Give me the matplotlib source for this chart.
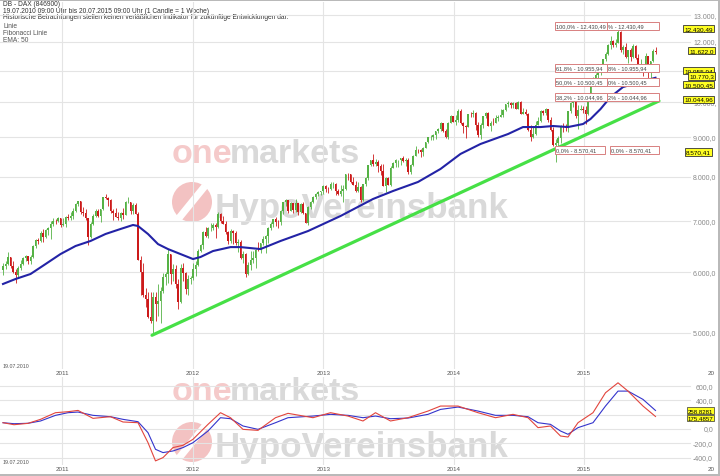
import numpy as np
import pandas as pd
import matplotlib
matplotlib.use("Agg")
import matplotlib.pyplot as plt
from matplotlib.patches import Rectangle, Circle, Polygon

plt.rcParams["font.family"] = ["Liberation Sans", "DejaVu Sans"]

W, H = 720, 477

# ---- weekly candles DB - DAX, 19.07.2010 .. 20.07.2015 ----
start = pd.Timestamp("2010-07-19")
first_open = 6050

close_2010 = [6117, 6148, 6281, 6110, 6005, 5951, 6080, 6160, 6257, 6299, 6211, 6291,
              6492, 6605, 6601, 6754, 6682, 6822, 6849, 6947, 7007, 6991, 7056, 6914]
high_2010 = [6170, 6200, 6386, 6290, 6200, 6060, 6120, 6230, 6285, 6330, 6310, 6330,
             6510, 6640, 6650, 6800, 6830, 6840, 6880, 7000, 7070, 7050, 7076, 7060]
low_2010 = [5960, 6060, 6140, 6070, 5990, 5810, 5920, 6050, 6140, 6210, 6150, 6150,
            6260, 6450, 6540, 6580, 6580, 6660, 6710, 6640, 6900, 6930, 6970, 6880]

close_2011 = [6947, 7076, 7062, 7102, 7216, 7371, 7426, 7185, 7178, 7064, 6664, 6947, 7105,
              7217, 7104, 7250, 7514, 7492, 7450, 7221, 7163, 7093, 7069, 7164, 7121, 7419,
              7420, 7220, 7344, 7159, 6236, 5998, 5602, 5538, 5246, 5190, 5573, 5458, 5502,
              5675, 5909, 5971, 6346, 5966, 6057, 5800, 5493, 6080, 5986, 5702, 5878, 5898]
high_2011 = [7060, 7100, 7160, 7190, 7280, 7380, 7440, 7420, 7300, 7250, 7060, 6990, 7160,
             7250, 7260, 7260, 7530, 7600, 7520, 7480, 7260, 7270, 7190, 7200, 7270, 7440,
             7530, 7410, 7390, 7380, 7200, 6300, 6170, 5720, 5660, 5650, 5650, 5660, 5790,
             5740, 5990, 6000, 6430, 6300, 6160, 6130, 5880, 6150, 6170, 6000, 5950, 5940]
low_2011 = [6900, 6880, 7030, 7030, 7050, 7200, 7330, 7150, 7100, 7030, 6510, 6650, 6920,
            7090, 7080, 6990, 7240, 7470, 7330, 7180, 7030, 7080, 7030, 7000, 7050, 7120,
            7380, 7150, 7150, 7150, 6220, 5610, 5570, 5400, 5230, 5150, 4965, 5180, 5260,
            5160, 5640, 5780, 5810, 5790, 5840, 5720, 5370, 5480, 5840, 5630, 5610, 5790]

close_2012 = [6057, 6143, 6404, 6512, 6766, 6692, 6849, 6864, 6921, 6880, 7157, 6995, 6947,
              6775, 6583, 6801, 6762, 6561, 6579, 6271, 6339, 5978, 6130, 6229, 6263, 6416,
              6410, 6557, 6630, 6689, 6865, 6945, 7040, 6971, 6970, 7215, 7412, 7451, 7216,
              7398, 7233, 7380, 7203, 7363, 7163, 6950, 7309, 7405, 7517, 7586, 7636, 7655,
              7776]
high_2012 = [6170, 6200, 6430, 6540, 6790, 6880, 6870, 6960, 6960, 6950, 7190, 7170, 7100,
             7000, 6790, 6830, 6820, 6800, 6640, 6610, 6400, 6350, 6190, 6390, 6400, 6440,
             6580, 6560, 6700, 6720, 6870, 6970, 7040, 7080, 7020, 7230, 7420, 7480, 7400,
             7420, 7400, 7480, 7390, 7400, 7410, 7170, 7320, 7440, 7540, 7620, 7670, 7670,
             7790]
low_2012 = [5860, 5930, 6120, 6370, 6440, 6680, 6660, 6790, 6820, 6660, 6860, 6960, 6930,
            6740, 6540, 6550, 6530, 6520, 6380, 6250, 6170, 5915, 5950, 6050, 6170, 6080,
            6390, 6360, 6520, 6350, 6550, 6820, 6880, 6900, 6860, 6910, 7150, 7330, 7180,
            7210, 7170, 7200, 7130, 7180, 7140, 6950, 6920, 7260, 7380, 7490, 7540, 7560,
            7590]

close_2013 = [7715, 7702, 7833, 7833, 7652, 7593, 7661, 7708, 8059, 8058, 7871, 7795, 7658,
              7744, 7459, 7815, 7961, 8278, 8398, 8305, 8349, 8254, 8128, 7789, 7959, 7806,
              8212, 8331, 8403, 8410, 8451, 8391, 8416, 8104, 8276, 8510, 8675, 8661, 8622,
              8725, 8870, 9001, 9010, 9078, 9168, 9225, 9405, 9172, 9006, 9400, 9589, 9435]
high_2013 = [7790, 7760, 7880, 7870, 7860, 7700, 7790, 7790, 8060, 8080, 8010, 7980, 7900,
             7880, 7780, 7820, 7980, 8290, 8420, 8560, 8440, 8400, 8300, 8300, 7990, 8000,
             8250, 8360, 8430, 8420, 8460, 8500, 8450, 8450, 8300, 8530, 8770, 8700, 8700,
             8740, 8880, 9010, 9070, 9100, 9190, 9260, 9420, 9410, 9220, 9420, 9620, 9600]
low_2013 = [7630, 7610, 7680, 7740, 7580, 7560, 7540, 7420, 7680, 7930, 7840, 7790, 7640,
            7650, 7420, 7430, 7780, 7920, 8260, 8260, 8260, 8110, 8040, 7770, 7650, 7790,
            7780, 8200, 8240, 8230, 8290, 8360, 8250, 8060, 8070, 8250, 8500, 8590, 8490,
            8520, 8720, 8850, 8940, 8930, 8960, 9110, 9190, 9140, 8990, 8960, 9390, 9420]

close_2014 = [9473, 9742, 9392, 9306, 9290, 9662, 9656, 9692, 9350, 9056, 9342, 9588, 9695,
              9315, 9409, 9401, 9556, 9581, 9630, 9768, 9943, 9987, 9912, 9987, 9815, 10009,
              9666, 9720, 9644, 9210, 9009, 9092, 9339, 9470, 9747, 9691, 9799, 9490, 9195,
              8788, 8850, 8988, 9326, 9291, 9252, 9732, 9980, 10087, 9594, 9787, 9805, 9765]
high_2014 = [9620, 9800, 9790, 9430, 9330, 9670, 9720, 9760, 9720, 9430, 9390, 9600, 9720,
             9720, 9450, 9540, 9630, 9640, 9810, 9800, 9960, 10050, 10000, 10000, 10000, 10050,
             10030, 9830, 9800, 9680, 9330, 9290, 9450, 9560, 9760, 9770, 9840, 9800, 9580,
             9280, 8970, 9050, 9340, 9400, 9380, 9750, 10000, 10090, 10100, 9930, 9910, 9880]
low_2014 = [9330, 9420, 9380, 9130, 8990, 9280, 9560, 9570, 9200, 9020, 8970, 9270, 9550,
            9310, 9170, 9350, 9400, 9450, 9560, 9570, 9750, 9870, 9830, 9820, 9790, 9810,
            9650, 9650, 9620, 9190, 8900, 8990, 9080, 9330, 9440, 9630, 9640, 9430, 9190,
            8770, 8355, 8720, 8850, 9150, 9170, 9160, 9700, 9870, 9540, 9220, 9760, 9700]

close_2015 = [9648, 10168, 10649, 10694, 10846, 10963, 11050, 11402, 11551, 11901, 12040,
              11868, 11967, 12375, 11689, 11811, 11454, 11709, 11447, 11865, 11414, 11197,
              11197, 11040, 11492, 11058, 11316, 11673, 11622]
high_2015 = [9880, 10200, 10650, 10800, 10910, 10990, 11130, 11410, 11620, 11920, 12220,
             12070, 12100, 12430, 12380, 11880, 11950, 11710, 11780, 11920, 11890, 11560,
             11400, 11240, 11600, 11500, 11330, 11740, 11800]
low_2015 = [9380, 9620, 10110, 10530, 10570, 10740, 10870, 11050, 11320, 11520, 11750,
            11830, 11810, 11940, 11640, 11570, 11420, 11260, 11330, 11430, 11400, 11050,
            10980, 10840, 11020, 10680, 10670, 11300, 11560]

close = close_2010 + close_2011 + close_2012 + close_2013 + close_2014 + close_2015
high = high_2010 + high_2011 + high_2012 + high_2013 + high_2014 + high_2015
low = low_2010 + low_2011 + low_2012 + low_2013 + low_2014 + low_2015
opens = [first_open] + close[:-1]
weeks = np.arange(len(close))

# EMA 50 (read at selected weeks)
ema_week = [0, 5, 11, 17, 23, 29, 35, 41, 47, 52, 54, 58, 62, 66, 71, 76, 79, 84, 91, 95,
            103, 111, 122, 135, 148, 156, 166, 175, 183, 191, 202, 208, 215, 220, 226, 232,
            235, 239, 243, 248, 255, 261]
ema_value = [5794, 5881, 5970, 6151, 6339, 6494, 6593, 6733, 6835, 6918, 6897, 6733, 6532,
             6435, 6339, 6245, 6283, 6397, 6473, 6473, 6435, 6593, 6793, 7107, 7480, 7662,
             7873, 8187, 8565, 8825, 9093, 9286, 9286, 9315, 9286, 9371, 9513, 9802, 10163,
             10473, 10633, 10770]

# trend line (green)
trend_week = [59.6, 262.4]
trend_value = [4966, 10044.96]

# Fibonacci
fib_levels = [12430.49, 10955.94, 10500.45, 10044.96, 8570.41]
fib_left = ["100,0% - 12.430,49", "61,8% - 10.955,94", "50,0% - 10.500,45",
            "38,2% - 10.044,96", "0,0% - 8.570,41"]
fib_right = ["% - 12.430,49", "8% - 10.955,94", "0% - 10.500,45",
             "2% - 10.044,96", "0,0% - 8.570,41"]

price_ticks = [5000, 6000, 7000, 8000, 9000, 10000, 12000, 13000]
price_tick_labels = ["5.000,0", "6.000,0", "7.000,0", "8.000,0", "9.000,0",
                     "10.000,", "12.000,", "13.000,"]
price_grid = [5000, 6000, 7000, 8000, 9000, 10000, 11000, 12000, 13000]

marker_values = [12430.49, 11622.0, 10955.94, 10770.3, 10500.45, 10044.96, 8570.41]
marker_texts = ["12.430,49", "11.622,0", "10.955,94", "10.770,3", "10.500,45",
                "10.044,96", "8.570,41"]
marker_px = [684, 689, 684, 689, 684, 684, 686]

# oscillator (lower panel)
osc_week = [0, 4.4, 10, 15, 21, 26, 30, 36, 43, 48, 54, 58, 61, 64, 68, 72, 76, 82, 87, 91,
            96, 102, 109, 114, 124, 131, 138, 144, 149, 155, 162, 170, 175, 182, 190, 197,
            204, 210, 214, 219, 223, 226, 230, 236, 241, 246, 250, 256, 261]
macd_value = [88, 60, 79, 135, 228, 242, 260, 149, 172, 98, 88, -191, -446, -400, -260,
              -228, -144, 65, 228, 158, -5, -19, 158, 219, 158, 228, 181, 112, 228, 112, 158,
              251, 321, 321, 228, 158, 205, 158, 19, 42, -98, -112, 88, 228, 507, 646, 530,
              321, 175]
signal_value = [88, 74, 80, 112, 191, 228, 237, 191, 172, 135, 102, -51, -284, -330, -307,
                -260, -191, -28, 158, 144, 42, -5, 88, 158, 181, 205, 191, 158, 181, 144, 153,
                205, 274, 307, 251, 191, 191, 172, 88, 65, -28, -74, 19, 88, 321, 530, 530,
                414, 259]
osc_ticks = [-400, -200, 0, 400, 600]
osc_tick_labels = ["-400,0", "-200,0", "0,0", "400,0", "600,0"]
osc_grid = [-400, -200, 0, 200, 400, 600]
osc_marker_values = [258.8281, 175.4857]
osc_marker_texts = ["258,8281", "175,4857"]

years = [2011, 2012, 2013, 2014, 2015]


def px_to_week(px):
    return (px - 3) / 2.5


def main_price(py):
    return 5000 * 10 ** ((334 - py) / 766)


def osc_val(py):
    return (430 - py) / 0.0715


grid_c = "#e4e4e4"
year_x = [(pd.Timestamp(f"{y}-01-01") - start).days / 7 for y in years]
xmin, xmax = px_to_week(0), px_to_week(720)

fig = plt.figure(figsize=(W / 100, H / 100), dpi=100)
bg = fig.add_axes([0, 0, 1, 1], zorder=0)
bg.set_xlim(0, W)
bg.set_ylim(H, 0)
bg.axis("off")

r1 = [0, (H - 370) / H, 1, 367 / H]
r2 = [0, (H - 466) / H, 1, 88 / H]
wm1 = fig.add_axes(r1, zorder=1)
wm1.set_xlim(0, W)
wm1.set_ylim(370, 3)
wm1.axis("off")
wm2 = fig.add_axes(r2, zorder=1)
wm2.set_xlim(0, W)
wm2.set_ylim(466, 378)
wm2.axis("off")

ax1 = fig.add_axes(r1, zorder=2)
ax2 = fig.add_axes(r2, zorder=2)
for a in (ax1, ax2):
    a.patch.set_visible(False)
    a.axis("off")
    a.set_xlim(xmin, xmax)
ax1.set_yscale("log")
ax1.set_ylim(main_price(370), main_price(3))
ax2.set_ylim(osc_val(466), osc_val(378))

# watermarks
for wm, base1, base2, cy in ((wm1, 163, 218, 203), (wm2, 401, 457, 443)):
    wm.text(172, base1, "one", size=24.5, weight="bold", color="#f5caca",
            va="baseline", clip_on=True)
    wm.text(230, base1, "markets", size=24.5, weight="bold", color="#d9d9d9",
            va="baseline", clip_on=True)
    wm.text(215, base2, "HypoVereinsbank", size=25.2, weight="bold", color="#d9d9d9",
            va="baseline", clip_on=True)
    wm.add_patch(Circle((192, cy), 20, fc="#f3c2c2", ec="none", clip_on=True))
    wm.add_patch(Polygon([(176, cy + 14), (182, cy + 18), (208, cy - 14), (202, cy - 18)],
                         closed=True, fc="white", ec="none", clip_on=True))

# grids and axis labels
for v in price_grid:
    ax1.plot([xmin, px_to_week(690)], [v, v], color=grid_c, lw=0.8, zorder=1)
for v, t in zip(price_ticks, price_tick_labels):
    ax1.text(px_to_week(693), v, t, size=5, color="#888888", va="center", ha="left")
for v in osc_grid:
    ax2.plot([xmin, px_to_week(690)], [v, v], color=grid_c, lw=0.8, zorder=1)
for v, t in zip(osc_ticks, osc_tick_labels):
    ax2.text(px_to_week(713), v, t, size=5, color="#888888", va="center", ha="right")
for x in year_x:
    ax1.axvline(x, color=grid_c, lw=0.8, zorder=1)
    ax2.axvline(x, color=grid_c, lw=0.8, zorder=1)

# candles
for x, o, h, l, c in zip(weeks, opens, high, low, close):
    col = "#55b245" if c >= o else "#cc1a1a"
    ax1.vlines(x, min(l, o, c), max(h, o, c), color=col, lw=0.6, zorder=3)
    ax1.bar(x, abs(c - o), bottom=min(o, c), width=0.62, color=col, lw=0, zorder=3)

ax1.plot(ema_week, ema_value, color="#2323a6", lw=1.5, zorder=4)
ax1.plot(trend_week, trend_value, color="#46e046", lw=2.3, zorder=4,
         solid_capstyle="round")

# fibonacci boxes
bh = 10 ** (8 / 766) - 1
for i, (lv, tl, tr) in enumerate(zip(fib_levels, fib_left, fib_right)):
    if i < 4:
        spans = [(px_to_week(555), px_to_week(607), tl), (px_to_week(607), px_to_week(659), tr)]
    else:
        spans = [(px_to_week(555), px_to_week(605), tl), (px_to_week(610), px_to_week(659), tr)]
    for x0, x1, t in spans:
        ax1.add_patch(Rectangle((x0, lv), x1 - x0, lv * bh, fc="white", ec="#d88080",
                                lw=0.7, zorder=5))
        ax1.text(x0 + 0.5, lv * 10 ** (4 / 766), t, size=4.1, color="#444444",
                 va="center", ha="left", zorder=6)

# value markers on the right
for v, t, px in zip(marker_values, marker_texts, marker_px):
    ax1.annotate(t, xy=(px_to_week(px), v), xytext=(0, 1.2), textcoords="offset points",
                 size=4.6, va="center", ha="left", zorder=7,
                 bbox=dict(boxstyle="square,pad=0.18", fc="#ffff22", ec="#333333", lw=0.6))

# oscillator
ax2.plot(osc_week, signal_value, color="#3434cc", lw=0.8, zorder=3)
ax2.plot(osc_week, macd_value, color="#e2453d", lw=0.8, zorder=3)
for v, t, dy in zip(osc_marker_values, osc_marker_texts, (0, -1)):
    ax2.annotate(t, xy=(px_to_week(688), v), xytext=(0, dy), textcoords="offset points",
                 size=4.4, va="center", ha="left", zorder=7,
                 bbox=dict(boxstyle="square,pad=0.12", fc="#ffff22", ec="#333333", lw=0.5))

# header text
hdr = ["DB - DAX (846900)",
       "19.07.2010 09:00 Uhr bis 20.07.2015 09:00 Uhr (1 Candle = 1 Woche)",
       "Historische Betrachtungen stellen keinen verläßlichen Indikator für zukünftige Entwicklungen dar."]
for t, y in zip(hdr, (4.8, 11.6, 17.6)):
    bg.text(3, y, t, size=4.8, color="#333333", va="center", ha="left")
for t, y in zip(["Linie", "Fibonacci Linie", "EMA: 50"], (26.8, 33.8, 41)):
    bg.text(3, y, t, size=4.8, color="#555555", va="center", ha="left")

# x labels
for y_date, y_year in ((367, 374), (463, 470)):
    bg.text(3, y_date, "19.07.2010", size=3.8, color="#555555", va="center", ha="left")
    for yr, x in zip(years, year_x):
        bg.text(3 + 2.5 * x, y_year, str(yr), size=4.5, color="#555555",
                va="center", ha="center")
    bg.text(711, y_year, "20", size=4.5, color="#555555", va="center", ha="center")

# frame
bg.plot([0, W], [0.6, 0.6], color="#b8b8b8", lw=1.4)
bg.plot([W - 1, W - 1], [0, H], color="#b8b8b8", lw=1.4)
bg.plot([0, W], [H - 0.6, H - 0.6], color="#b8b8b8", lw=1.4)

fig.savefig("out.png", dpi=100)
